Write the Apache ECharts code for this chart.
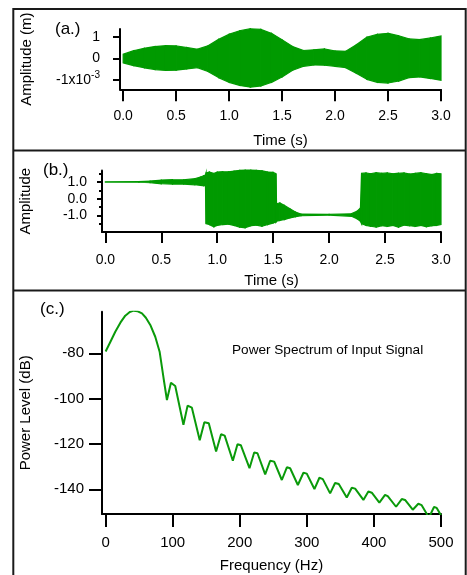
<!DOCTYPE html>
<html><head><meta charset="utf-8">
<script src="https://cdn.jsdelivr.net/npm/echarts@6/dist/echarts.min.js"></script>
<style>html,body{margin:0;padding:0;background:#fff}#c{width:467px;height:575px}</style>
</head><body><div id="c"></div>
<script>
// ---------- Panel (a): displacement envelope (units of 1e-3 m) ----------
const tA = [0,0.1,0.2,0.3,0.4,0.5,0.6,0.7,0.8,0.9,1.0,1.1,1.2,1.3,1.4,1.5,1.6,1.7,1.8,1.9,2.0,2.1,2.2,2.3,2.4,2.5,2.6,2.7,2.8,2.9,3.0];
const ampUpperE3 = [0.20,0.36,0.47,0.55,0.59,0.58,0.51,0.43,0.58,0.88,1.12,1.28,1.37,1.34,1.16,0.86,0.55,0.37,0.40,0.44,0.35,0.33,0.63,0.98,1.12,1.16,1.05,0.90,0.87,0.95,1.04];
const ampLowerE3 = [-0.20,-0.33,-0.43,-0.51,-0.55,-0.54,-0.48,-0.42,-0.60,-0.88,-1.10,-1.24,-1.32,-1.27,-1.10,-0.85,-0.54,-0.36,-0.30,-0.31,-0.36,-0.42,-0.68,-0.96,-1.10,-1.13,-1.04,-0.88,-0.85,-0.92,-1.00];
// ---------- Panel (b): amplitude envelope ----------
const tB = [0,0.3,0.4,0.5,0.6,0.7,0.8,0.85,0.88,0.895,0.9,0.93,0.97,1.0,1.05,1.1,1.15,1.2,1.25,1.3,1.35,1.4,1.45,1.5,1.525,1.53,1.56,1.6,1.65,1.7,1.75,2.0,2.2,2.25,2.28,2.29,2.33,2.37,2.42,2.47,2.52,2.57,2.62,2.67,2.72,2.77,2.82,2.87,2.92,2.96,3.0];
const bUpper = [1.02,1.03,1.06,1.12,1.14,1.14,1.2,1.3,1.38,1.42,1.55,1.6,1.52,1.6,1.62,1.62,1.66,1.7,1.72,1.72,1.7,1.68,1.6,1.58,1.5,-0.3,-0.25,-0.4,-0.6,-0.8,-0.92,-0.94,-0.9,-0.75,-0.55,1.52,1.55,1.5,1.56,1.52,1.55,1.5,1.53,1.55,1.48,1.52,1.56,1.5,1.45,1.52,1.5];
const bLower = [1.0,0.99,0.96,0.9,0.88,0.88,0.84,0.8,0.78,0.8,-1.5,-1.55,-1.68,-1.6,-1.55,-1.52,-1.6,-1.7,-1.74,-1.62,-1.58,-1.65,-1.55,-1.45,-1.4,-1.35,-1.3,-1.25,-1.15,-1.08,-1.02,-0.98,-1.05,-1.2,-1.35,-1.5,-1.6,-1.65,-1.7,-1.62,-1.66,-1.6,-1.7,-1.58,-1.62,-1.66,-1.6,-1.68,-1.62,-1.6,-1.55];
// ---------- Panel (c): power spectrum ----------
const freqHz = [0,7,14.4,22,29.3,36,41.7,48,54.2,60,66.6,74,80.5,86.4,91.4,97.4,103.8,116,122.2,128.6,140.3,147.2,153.8,164.7,172.1,177.5,189.7,196.6,201.7,214.5,221.5,226.4,237.9,245.3,251.3,262.7,270.2,275.1,286.6,294.9,299.9,311.3,318.7,323.8,334.7,342.1,347.6,359.5,367,372,384.3,391.7,396.8,408.1,416.6,420.6,433,441.5,446.4,457.9,466.2,471.2,482,489.6,493.6,500];
const powerDb = [-79.2,-75,-70.5,-66.5,-63.4,-61.8,-61.2,-61.5,-62.4,-64.3,-67.5,-72.7,-79.3,-91,-100.6,-93,-94.4,-111.5,-103.1,-104,-118.4,-110.4,-110.9,-123.3,-115.7,-116.3,-127.4,-120.1,-120.6,-130.7,-123.8,-124.1,-133.4,-127.4,-127.8,-135.9,-130.3,-130.7,-138.1,-132.7,-133.1,-139.9,-134.9,-135.5,-141.8,-137.2,-137.7,-143.6,-139.3,-139.7,-144.7,-141,-141.5,-145.9,-142.5,-143,-147.7,-144.3,-144.7,-149,-146.4,-147,-152.5,-147.8,-148.2,-151.5];
// ---------- Ticks ----------
const timeTicks = [0,0.5,1,1.5,2,2.5,3];
const ampTicksA = [-1,0,1];
const ampTicksB = [-1,0,1];
const ampMinorB = [-1.5,-0.5,0.5,1.5];
const freqTicks = [0,100,200,300,400,500];
const dbTicks = [-140,-120,-100,-80];

const FONT = '"Liberation Sans", Arial, sans-serif';
const GREEN = '#009a00';
const BLACK = '#000';
const zip = (xs, ys) => xs.map((x, i) => [x, ys[i]]);
// band segments: [t_i, low_i, up_i, t_i+1, low_i+1, up_i+1]
const segs = (t, lo, up) => t.slice(0, -1).map((x, i) => [x, lo[i], up[i], t[i + 1], lo[i + 1], up[i + 1]]);
const lineSt = {color: BLACK, width: 2};
const nameSt = {fontSize: 15, color: BLACK, fontFamily: FONT};

function xAx(grid, min, max, ticks, tickLen, fs, margin, fmt, name, gap) {
  return {gridIndex: grid, type: 'value', min, max, position: 'bottom',
    axisLine: {show: true, onZero: false, lineStyle: lineSt},
    axisTick: {show: true, customValues: ticks, length: tickLen, lineStyle: lineSt},
    axisLabel: {show: true, customValues: ticks, formatter: fmt, fontSize: fs, color: BLACK, fontFamily: FONT, margin},
    splitLine: {show: false}, name, nameLocation: 'middle', nameGap: gap, nameTextStyle: nameSt};
}
function yAx(grid, min, max, ticks, tickLen, fs, margin, fmt, name, gap, rich) {
  return {gridIndex: grid, type: 'value', min, max, position: 'left',
    axisLine: {show: true, onZero: false, lineStyle: lineSt},
    axisTick: {show: true, customValues: ticks, length: tickLen, lineStyle: lineSt},
    axisLabel: {show: true, customValues: ticks, formatter: fmt, fontSize: fs, color: BLACK, fontFamily: FONT, margin, rich},
    splitLine: {show: false}, name, nameLocation: 'middle', nameRotate: 90, nameGap: gap, nameTextStyle: nameSt};
}
function bandRender(params, api) {
  const p = [
    api.coord([api.value(0), api.value(1)]),
    api.coord([api.value(3), api.value(4)]),
    api.coord([api.value(3), api.value(5)]),
    api.coord([api.value(0), api.value(2)])
  ];
  return {type: 'polygon', shape: {points: p}, style: {fill: GREEN, stroke: GREEN, lineWidth: 1.2}};
}
function band(xi, yi, data) {
  return {type: 'custom', xAxisIndex: xi, yAxisIndex: yi, renderItem: bandRender, data,
    encode: {x: [0, 3], y: [1, 2, 4, 5]}, silent: true, animation: false};
}

const chart = echarts.init(document.getElementById('c'), null, {renderer: 'canvas'});

const option = {
  animation: false,
  backgroundColor: '#fff',
  grid: [
    {left: 120, right: 26, top: 29, height: 60.3, outerBoundsMode: 'none'},
    {left: 102, right: 26, top: 170.4, height: 61.7, outerBoundsMode: 'none'},
    {left: 102, right: 26, top: 311.7, height: 202.3, outerBoundsMode: 'none'}
  ],
  xAxis: [
    xAx(0, -0.03, 3.0, timeTicks, 12, 14, 20, v => v.toFixed(1), 'Time (s)', 44),
    xAx(1, -0.03, 3.0, timeTicks, 11, 14, 21, v => v.toFixed(1), 'Time (s)', 41),
    xAx(2, -5.4, 500, freqTicks, 13, 15, 21, v => String(v), 'Frequency (Hz)', 44)
  ],
  yAxis: [
    yAx(0, -1.42, 1.36, ampTicksA, 7, 14, 20,
      v => (v === -1 ? '{m|-1x10}{s|-3}' : String(v)), 'Amplitude (m)', 86,
      {m: {fontSize: 14, color: BLACK, fontFamily: FONT},
       s: {fontSize: 10, color: BLACK, fontFamily: FONT, padding: [0, 0, 9, 0]}}),
    yAx(1, -2.0, 1.7, ampTicksB, 5, 14, 15, v => v.toFixed(1), 'Amplitude', 69),
    yAx(2, -150.9, -61.65, dbTicks, 13, 15, 18, v => String(v), 'Power Level (dB)', 69),
    {gridIndex: 1, type: 'value', min: -2.0, max: 1.7, position: 'left',
     axisLine: {show: false, onZero: false}, axisTick: {show: true, customValues: ampMinorB, length: 3, lineStyle: lineSt},
     axisLabel: {show: false}, splitLine: {show: false}}
  ],
  series: [
    band(0, 0, segs(tA, ampLowerE3, ampUpperE3)),
    band(1, 1, segs(tB, bLower, bUpper)),
    {type: 'line', symbol: 'none', silent: true, animation: false, xAxisIndex: 2, yAxisIndex: 2,
      data: zip(freqHz, powerDb), clip: true, lineStyle: {color: '#0a9a0a', width: 2}}
  ],
  graphic: [
    {type: 'line', shape: {x1: 13, y1: 9, x2: 466, y2: 9}, style: {stroke: '#1a1a1a', lineWidth: 2}},
    {type: 'line', shape: {x1: 13.3, y1: 8, x2: 13.3, y2: 575}, style: {stroke: '#1a1a1a', lineWidth: 2}},
    {type: 'line', shape: {x1: 465.7, y1: 8, x2: 465.7, y2: 575}, style: {stroke: '#1a1a1a', lineWidth: 2}},
    {type: 'line', shape: {x1: 13, y1: 150.5, x2: 466, y2: 150.5}, style: {stroke: '#1a1a1a', lineWidth: 2}},
    {type: 'line', shape: {x1: 13, y1: 290.5, x2: 466, y2: 290.5}, style: {stroke: '#1a1a1a', lineWidth: 2}},
    {type: 'text', x: 55, y: 29, style: {text: '(a.)', fill: BLACK, fontSize: 17, fontFamily: FONT, verticalAlign: 'middle'}},
    {type: 'text', x: 43, y: 170, style: {text: '(b.)', fill: BLACK, fontSize: 17, fontFamily: FONT, verticalAlign: 'middle'}},
    {type: 'text', x: 40, y: 309, style: {text: '(c.)', fill: BLACK, fontSize: 17, fontFamily: FONT, verticalAlign: 'middle'}},
    {type: 'text', x: 232, y: 350, style: {text: 'Power Spectrum of Input Signal', fill: BLACK, fontSize: 13.6, fontFamily: FONT, verticalAlign: 'middle'}}
  ]
};
chart.setOption(option);
</script>
</body></html>
